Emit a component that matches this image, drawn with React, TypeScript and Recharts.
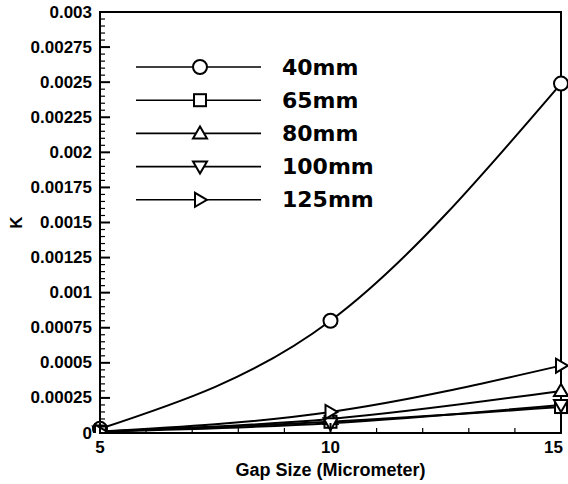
import {
  LineChart,
  Line,
  XAxis,
  YAxis,
  Legend,
  ReferenceArea,
} from 'recharts';

// Gap size (micrometer) on x, K on y
const gapSizes = [5, 10, 15];
const k40 = [0.00003, 0.0008, 0.00249];
const k65 = [0.00001, 0.00008, 0.000185];
const k80 = [0.00001, 0.0001, 0.0003];
const k100 = [0.00001, 0.00007, 0.0002];
const k125 = [0.00001, 0.00015, 0.00048];

const seriesNames = ['40mm', '65mm', '80mm', '100mm', '125mm'];
const markerKinds = ['circle', 'square', 'up', 'down', 'right'] as const;

const xMajorTicks = [5, 10, 15];
const xTicks = [5, 6, 7, 8, 9, 10, 11, 12, 13, 14, 15];
const yMajorLabels = [
  '0', '0.00025', '0.0005', '0.00075', '0.001', '0.00125', '0.0015',
  '0.00175', '0.002', '0.00225', '0.0025', '0.00275', '0.003',
];
const yMajorStep = 0.00025;
const yMinorPerMajor = 5;

// minor ticks: 5 subdivisions between labelled ticks
const yTicks: number[] = [];
for (let i = 0; i < (yMajorLabels.length - 1) * yMinorPerMajor + 1; i++) {
  yTicks.push((i * yMajorStep) / yMinorPerMajor);
}

const data = gapSizes.map((gap, i) => ({
  gap,
  s40: k40[i],
  s65: k65[i],
  s80: k80[i],
  s100: k100[i],
  s125: k125[i],
}));
const dataKeys = ['s40', 's65', 's80', 's100', 's125'];

const FONT = '"Liberation Sans", Arial, Helvetica, sans-serif';
const TICK_MARGIN = 8;

type Kind = (typeof markerKinds)[number];

function MarkerShape({ kind, cx, cy }: { kind: Kind; cx: number; cy: number }) {
  const common = { fill: '#fff', stroke: '#000', strokeWidth: 2 };
  switch (kind) {
    case 'circle':
      return <circle cx={cx} cy={cy} r={7} {...common} />;
    case 'square':
      return <rect x={cx - 6} y={cy - 6} width={12} height={12} {...common} />;
    case 'up':
      return <polygon points={`${cx},${cy - 7} ${cx + 7},${cy + 5} ${cx - 7},${cy + 5}`} {...common} />;
    case 'down':
      return <polygon points={`${cx},${cy + 7} ${cx + 7},${cy - 5} ${cx - 7},${cy - 5}`} {...common} />;
    case 'right':
    default:
      return <polygon points={`${cx + 7},${cy} ${cx - 5},${cy - 7} ${cx - 5},${cy + 7}`} {...common} />;
  }
}

function makeDot(kind: Kind) {
  return (props: any) => {
    const { cx, cy, index } = props;
    if (cx == null || cy == null) return <g key={index} />;
    return (
      <g key={`${kind}-${index}`}>
        <MarkerShape kind={kind} cx={cx} cy={cy} />
      </g>
    );
  };
}

function YTick(props: any) {
  const { x, y, payload } = props;
  const v = payload.value as number;
  const idx = Math.round(v / yMajorStep);
  const major = Math.abs(v - idx * yMajorStep) < 1e-9;
  const ax = x + TICK_MARGIN;
  return (
    <g>
      <line x1={ax} x2={ax + (major ? 10 : 5)} y1={y} y2={y} stroke="#000" strokeWidth={major ? 2 : 1.2} />
      {major && (
        <text
          x={x}
          y={y}
          textAnchor="end"
          dominantBaseline="central"
          fontFamily={FONT}
          fontWeight="bold"
          fontSize={17}
          fill="#000"
        >
          {yMajorLabels[idx]}
        </text>
      )}
    </g>
  );
}

function XTick(props: any) {
  const { x, y, payload } = props;
  const v = payload.value as number;
  const major = xMajorTicks.includes(v);
  const last = v === xMajorTicks[xMajorTicks.length - 1];
  const ay = y - TICK_MARGIN;
  return (
    <g>
      <line x1={x} x2={x} y1={ay} y2={ay - (major ? 10 : 5)} stroke="#000" strokeWidth={major ? 2 : 1.2} />
      {major && (
        <text
          x={last ? x + 2 : x}
          y={ay + 14}
          textAnchor={last ? 'end' : 'middle'}
          dominantBaseline="central"
          fontFamily={FONT}
          fontWeight="bold"
          fontSize={17}
          fill="#000"
        >
          {v}
        </text>
      )}
    </g>
  );
}

function LegendBox() {
  const rowGap = 33.2;
  return (
    <svg width={270} height={175}>
      {seriesNames.map((name, i) => {
        const cy = 17 + i * rowGap;
        return (
          <g key={name}>
            <line x1={6} x2={131} y1={cy} y2={cy} stroke="#000" strokeWidth={1.6} />
            <MarkerShape kind={markerKinds[i]} cx={70} cy={cy} />
            <text
              x={152}
              y={cy}
              dominantBaseline="central"
              fontFamily='"DejaVu Sans", sans-serif'
              fontWeight="bold"
              fontSize={22}
              fill="#000"
            >
              {name}
            </text>
          </g>
        );
      })}
    </svg>
  );
}

export default function App() {
  return (
    <div style={{ position: 'absolute', left: 0, top: 0, background: '#fff' }}>
      <LineChart width={568} height={484} data={data} margin={{ top: 12, right: 7, bottom: 0, left: 0 }}>
        <XAxis
          dataKey="gap"
          type="number"
          domain={[5, 15]}
          ticks={xTicks}
          interval={0}
          height={51}
          tickSize={0}
          tickMargin={TICK_MARGIN}
          tick={<XTick />}
          axisLine={{ stroke: '#000', strokeWidth: 2 }}
          label={{
            content: (p: any) => {
              const vb = p.viewBox;
              return (
                <text
                  x={vb.x + vb.width / 2}
                  y={vb.y + 43}
                  textAnchor="middle"
                  fontFamily={FONT}
                  fontWeight="bold"
                  fontSize={18}
                  fill="#000"
                >
                  Gap Size (Micrometer)
                </text>
              );
            },
          }}
        />
        <YAxis
          type="number"
          domain={[0, 0.003]}
          ticks={yTicks}
          interval={0}
          width={100}
          tickSize={0}
          tickMargin={TICK_MARGIN}
          tick={<YTick />}
          axisLine={{ stroke: '#000', strokeWidth: 2 }}
          allowDataOverflow
          label={{
            content: (p: any) => {
              const vb = p.viewBox;
              const cx = vb.x + 16;
              const cy = vb.y + vb.height / 2;
              return (
                <text
                  x={cx}
                  y={cy}
                  textAnchor="middle"
                  dominantBaseline="central"
                  transform={`rotate(-90 ${cx} ${cy})`}
                  fontFamily={FONT}
                  fontWeight="bold"
                  fontSize={17}
                  fill="#000"
                >
                  K
                </text>
              );
            },
          }}
        />
        <ReferenceArea x1={5} x2={15} y1={0} y2={0.003} fill="none" stroke="#000" strokeWidth={2} />
        <Legend
          layout="vertical"
          align="center"
          verticalAlign="middle"
          content={() => <LegendBox />}
          wrapperStyle={{ position: 'absolute', left: 130, top: 50, width: 270 }}
        />
        {dataKeys.map((key, i) => (
          <Line
            key={key}
            type="natural"
            dataKey={key}
            name={seriesNames[i]}
            stroke="#000"
            strokeWidth={2}
            dot={makeDot(markerKinds[i])}
            activeDot={false}
            isAnimationActive={false}
          />
        ))}
      </LineChart>
    </div>
  );
}
